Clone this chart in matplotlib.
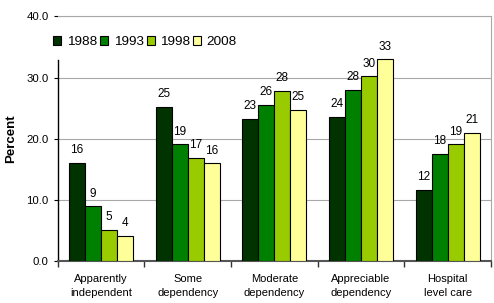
import numpy as np
import matplotlib.pyplot as plt
from matplotlib.ticker import FormatStrFormatter

plt.rcParams['font.family'] = ['Liberation Sans', 'DejaVu Sans']

categories = ["Apparently\nindependent", "Some\ndependency", "Moderate\ndependency",
              "Appreciable\ndependency", "Hospital\nlevel care"]
years = ["1988", "1993", "1998", "2008"]
v1988 = [16.1, 25.2, 23.3, 23.6, 11.7]
v1993 = [9.0, 19.1, 25.6, 28.0, 17.6]
v1998 = [5.2, 16.9, 27.9, 30.2, 19.1]
v2008 = [4.2, 16.0, 24.8, 33.0, 21.0]
series = [v1988, v1993, v1998, v2008]
colors = ["#003300", "#008000", "#99cc00", "#ffff99"]

fig = plt.figure(figsize=(4.94, 3.03), dpi=100)
ax = fig.add_axes([0.117, 0.137, 0.877, 0.809])

x = np.arange(len(categories))
w = 0.185
for i, (vals, col, yr) in enumerate(zip(series, colors, years)):
    pos = x + (i - 1.5) * w
    bars = ax.bar(pos, vals, width=w, color=col, edgecolor="black", linewidth=0.8,
                  label=yr, zorder=3)
    for b, v in zip(bars, vals):
        ax.text(b.get_x() + b.get_width() / 2, v + 1.1, f"{round(v):d}",
                ha="center", va="bottom", fontsize=8.5, zorder=4)

ax.set_xlim(-0.5, len(categories) - 0.5)
ax.set_ylim(0, 40)
ax.set_yticks([0, 10, 20, 30, 40])
ax.yaxis.set_major_formatter(FormatStrFormatter("%.1f"))
ax.yaxis.grid(True, color="#a8a8a8", linewidth=0.8, zorder=0)
ax.set_axisbelow(True)

ax.set_xticks(x)
ax.set_xticklabels(categories, fontsize=8, linespacing=1.45)
ax.set_xticks(np.arange(len(categories) + 1) - 0.5, minor=True)
ax.tick_params(axis="x", which="major", length=0, pad=9)
ax.tick_params(axis="x", which="minor", length=4, width=1, color="#333333")
ax.tick_params(axis="y", labelsize=8.2, length=3, width=0.8)

ax.spines["top"].set_color("#a8a8a8")
ax.spines["top"].set_linewidth(0.8)
ax.spines["right"].set_color("#a8a8a8")
ax.spines["left"].set_linewidth(1.0)
ax.spines["left"].set_bounds(0, 32.8)
ax.spines["bottom"].set_color("#555555")
ax.spines["bottom"].set_linewidth(1.5)

ax.set_ylabel("Percent", fontsize=9.5, fontweight="bold", labelpad=7)

leg = ax.legend(loc="upper left", bbox_to_anchor=(-0.035, 0.962), ncol=4, frameon=False,
                fontsize=9.7, handlelength=0.6, handleheight=0.6, handletextpad=0.4,
                columnspacing=0.22, borderpad=0.3)
leg.set_zorder(5)

fig.savefig("out.png", dpi=100)
